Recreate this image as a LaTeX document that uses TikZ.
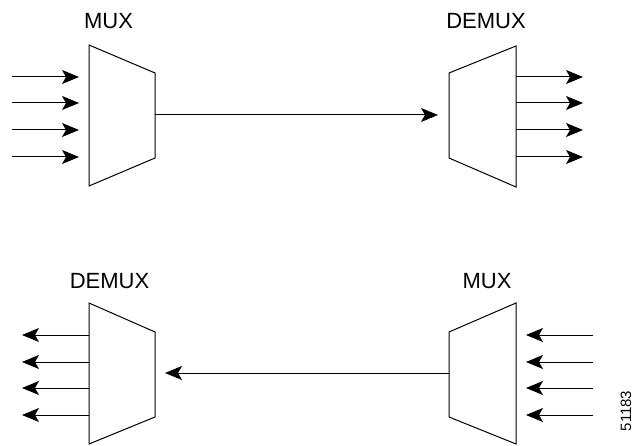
\documentclass[tikz,border=0pt]{standalone}
\usepackage{fontspec}
\setmainfont{Liberation Sans}
\usetikzlibrary{arrows.meta}
\begin{document}
\begin{tikzpicture}[x=1pt,y=-1pt,
  box/.style={draw=black,line width=1pt,fill=white,line join=miter},
  sig/.style={draw=black,line width=1pt,-{Stealth[length=17pt,width=14pt,inset=4pt]}},
  lab/.style={font=\fontsize{22}{26}\selectfont,inner sep=0pt,anchor=center}]
\useasboundingbox (0,0) rectangle (637,446);
% top MUX
\path[box] (89,45) -- (155,73) -- (155,158) -- (89,186) -- cycle;
% top DEMUX
\path[box] (449,73) -- (516,46) -- (516,187) -- (449,158) -- cycle;
% bottom DEMUX
\path[box] (89,303) -- (155,332) -- (155,417) -- (89,444) -- cycle;
% bottom MUX
\path[box] (449,332) -- (516,303) -- (516,444) -- (449,417) -- cycle;

\node[lab] (mux1) at (108.5,21) {MUX};
\node[lab] (demux1) at (486,21) {DEMUX};
\node[lab] (demux2) at (109.5,281.5) {DEMUX};
\node[lab] (mux2) at (487,281.5) {MUX};
\node[font=\fontsize{15}{17}\selectfont,rotate=90,inner sep=0pt] (num) at (626,411) {51183};

\coordinate (m1out) at (155,115);
\coordinate (d1in) at (438,115);
\draw[sig] (m1out) -- (d1in);
\coordinate (m2out) at (449,373);
\coordinate (d2in) at (165,373);
\draw[sig] (m2out) -- (d2in);

\foreach \y [count=\i] in {77,103,130,157} {
  \coordinate (a\i) at (12,\y);
  \coordinate (b\i) at (79,\y);
  \draw[sig] (a\i) -- (b\i);
  \coordinate (c\i) at (516,\y);
  \coordinate (e\i) at (583,\y);
  \draw[sig] (c\i) -- (e\i);
}
\foreach \y [count=\i] in {335,362,388,415} {
  \coordinate (f\i) at (89,\y);
  \coordinate (g\i) at (22,\y);
  \draw[sig] (f\i) -- (g\i);
  \coordinate (h\i) at (593,\y);
  \coordinate (k\i) at (526,\y);
  \draw[sig] (h\i) -- (k\i);
}
\end{tikzpicture}
\end{document}
